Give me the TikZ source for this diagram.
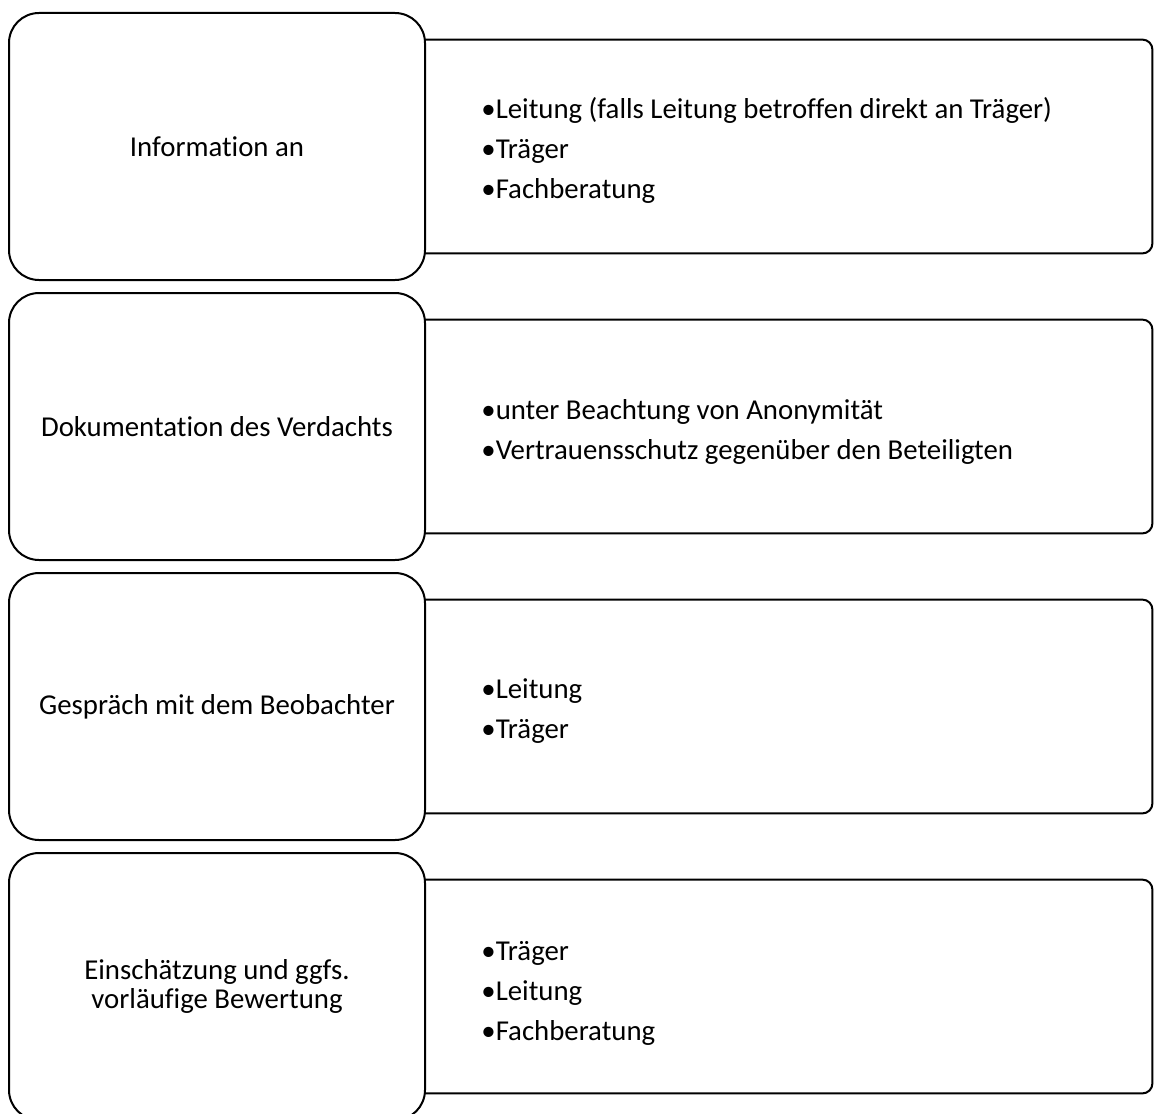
\documentclass[tikz,border=0pt]{standalone}
\usepackage{fontspec}
\setmainfont[Ligatures={NoCommon}]{Carlito}
\begin{document}
\begin{tikzpicture}[x=0.5pt,y=-0.5pt,
  lbox/.style={draw=black, line width=1pt, rounded corners=15pt, fill=white,
    minimum width=208pt, minimum height=133.5pt, inner sep=0pt, align=center,
    font=\fontsize{14.4}{14.5}\selectfont},
  rbox/.style={draw=none, minimum width=363.5pt, minimum height=106.5pt, inner sep=0pt},
  rframe/.style={draw=black, line width=1pt},
  rtext/.style={anchor=west, align=left, inner sep=0pt, font=\fontsize{14.4}{20}\selectfont}
]
\useasboundingbox (0,0) rectangle (1155,1113);

% right boxes
\foreach \i/\t in {0/1,1/2,2/3,3/4}{
  \node[rbox] (r\t) at (788.5,{146.5+280*\i}) {};
  \draw[rframe] (r\t.north west) -- ([xshift=-5pt]r\t.north east)
     arc[start angle=90,end angle=0,radius=5pt]
     -- ([yshift=5pt]r\t.south east)
     arc[start angle=0,end angle=-90,radius=5pt]
     -- (r\t.south west) -- cycle;
}

% left boxes
\node[lbox] (l1) at (217,146.5) {Information an};
\node[lbox] (l2) at (217,426.5) {Dokumentation des Verdachts};
\node[lbox] (l3) at (217,706.5) {Gespräch mit dem Beobachter};
\node[lbox] (l4) at (217,986.5) {Einschätzung und ggfs.\\vorläufige Bewertung};

% bullet texts
\node[rtext] (t1) at (481,150) {•Leitung (falls Leitung betroffen direkt an Träger)\\•Träger\\•Fachberatung};
\node[rtext] (t2) at (481,432) {•unter Beachtung von Anonymität\\•Vertrauensschutz gegenüber den Beteiligten};
\node[rtext] (t3) at (481,711) {•Leitung\\•Träger};
\node[rtext] (t4) at (481,993) {•Träger\\•Leitung\\•Fachberatung};
\end{tikzpicture}
\end{document}
